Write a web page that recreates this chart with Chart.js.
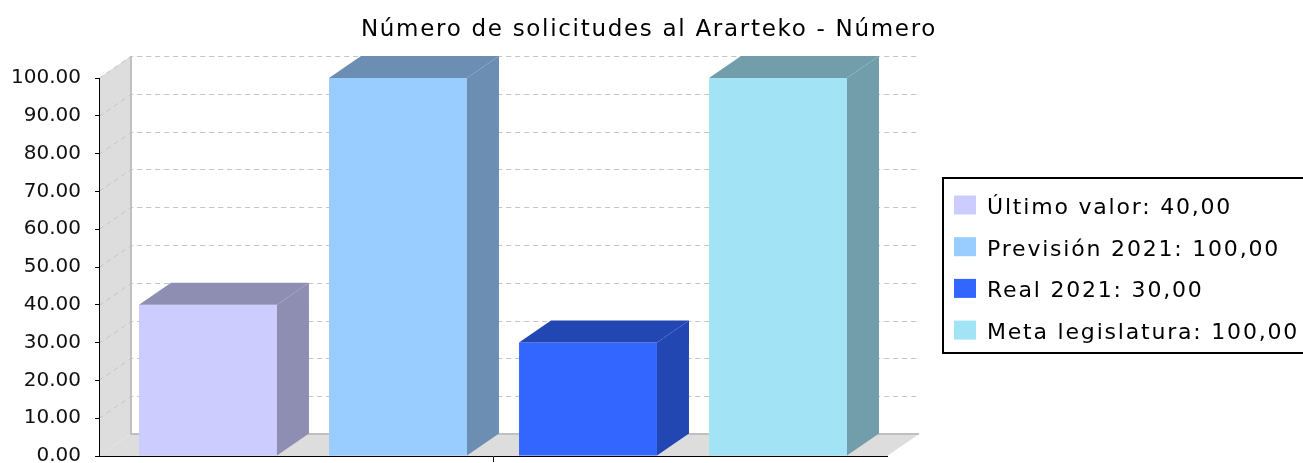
<!DOCTYPE html>
<html>
<head>
<meta charset="utf-8">
<script src="https://cdn.jsdelivr.net/npm/chart.js@4"></script>
<style>
  html, body { margin: 0; padding: 0; background: #fff; }
  #wrap { width: 1303px; height: 463px; }
</style>
</head>
<body>
<div id="wrap"><canvas id="chart" width="1303" height="463"></canvas></div>
<script>
// Datos
const categories = [''];
const seriesNames = ['Último valor', 'Previsión 2021', 'Real 2021', 'Meta legislatura'];
const seriesValues = [40, 100, 30, 100];
const yMin = 0;
const yMax = 100;
const yStep = 10;
const titleText = 'Número de solicitudes al Ararteko - Número';

// Estilo
const seriesColors = ['#CCCCFF', '#99CCFF', '#3366FF', '#A3E3F6'];
const FONT = 'DejaVu Sans';
const DX = 32, DY = 22;

function darker(hex) {
    const n = parseInt(hex.slice(1), 16);
    const r = Math.floor(((n >> 16) & 255) * 0.7);
    const g = Math.floor(((n >> 8) & 255) * 0.7);
    const b = Math.floor((n & 255) * 0.7);
    return `rgb(${r},${g},${b})`;
}

function poly(ctx, pts, fill) {
    ctx.beginPath();
    ctx.moveTo(pts[0][0], pts[0][1]);
    for (let i = 1; i < pts.length; i++) ctx.lineTo(pts[i][0], pts[i][1]);
    ctx.closePath();
    ctx.fillStyle = fill;
    ctx.fill();
}

// Paredes, suelo y rejilla
const walls3d = {
    id: 'walls3d',
    beforeDraw(chart) {
        const { ctx, chartArea: a, scales: { y } } = chart;
        ctx.save();
        poly(ctx, [[a.left, a.top], [a.left + DX, a.top - DY], [a.left + DX, a.bottom - DY], [a.left, a.bottom]], '#DDDDDD');
        poly(ctx, [[a.left, a.bottom], [a.left + DX, a.bottom - DY], [a.right + DX, a.bottom - DY], [a.right, a.bottom]], '#DDDDDD');

        ctx.strokeStyle = '#C4C4C4';
        ctx.lineWidth = 1;
        ctx.setLineDash([5, 4]);
        for (let v = yMin + yStep; v <= yMax; v += yStep) {
            const yy = Math.round(y.getPixelForValue(v)) + 0.5;
            ctx.beginPath();
            ctx.moveTo(a.left, yy);
            ctx.lineTo(a.left + DX, yy - DY);
            ctx.lineTo(a.right + DX, yy - DY);
            ctx.stroke();
        }
        ctx.setLineDash([]);
        ctx.strokeStyle = '#C0C0C0';
        ctx.lineWidth = 2;
        ctx.beginPath();
        ctx.moveTo(a.left + DX, a.top - DY);
        ctx.lineTo(a.left + DX, a.bottom - DY);
        ctx.lineTo(a.right + DX, a.bottom - DY);
        ctx.stroke();
        ctx.restore();
    }
};

// Caras laterales y superiores de las barras
const bars3d = {
    id: 'bars3d',
    afterDatasetsDraw(chart) {
        const ctx = chart.ctx;
        ctx.save();
        chart.data.datasets.forEach((ds, i) => {
            const meta = chart.getDatasetMeta(i);
            meta.data.forEach(bar => {
                const { x, y, base, width } = bar.getProps(['x', 'y', 'base', 'width'], true);
                const l = x - width / 2, r = x + width / 2;
                const c = darker(seriesColors[i]);
                poly(ctx, [[r, y], [r + DX, y - DY], [r + DX, base - DY], [r, base]], c);
                poly(ctx, [[l, y], [l + DX, y - DY], [r + DX, y - DY], [r, y]], c);
            });
        });
        ctx.restore();
    }
};

// Título y leyenda con recuadro
const titleAndLegend = {
    id: 'titleAndLegend',
    afterDraw(chart) {
        const ctx = chart.ctx;
        ctx.save();
        ctx.fillStyle = '#000';
        ctx.font = `23px "${FONT}"`;
        ctx.letterSpacing = '1.7px';
        ctx.textAlign = 'center';
        ctx.textBaseline = 'alphabetic';
        ctx.fillText(titleText, 649, 36);

        const bx = 943, by = 178, bw = 370, bh = 175;
        ctx.fillStyle = '#fff';
        ctx.fillRect(bx, by, bw, bh);
        ctx.strokeStyle = '#000';
        ctx.lineWidth = 2;
        ctx.strokeRect(bx, by, bw, bh);
        ctx.font = `22px "${FONT}"`;
        ctx.letterSpacing = '1.8px';
        ctx.textAlign = 'left';
        seriesNames.forEach((name, i) => {
            const cy = 205 + i * 41.7;
            ctx.fillStyle = seriesColors[i];
            ctx.fillRect(954, cy - 9.5, 22, 19);
            ctx.fillStyle = '#000';
            const val = seriesValues[i].toFixed(2).replace('.', ',');
            ctx.fillText(`${name}: ${val}`, 987, cy + 9);
        });
        ctx.restore();
    }
};

const datasets = seriesNames.map((name, i) => ({
    label: name,
    data: [seriesValues[i]],
    backgroundColor: seriesColors[i],
    borderWidth: 0,
    categoryPercentage: 0.9645,
    barPercentage: 0.726
}));

new Chart(document.getElementById('chart'), {
    type: 'bar',
    data: { labels: categories, datasets: datasets },
    options: {
        responsive: false,
        animation: false,
        layout: { padding: { left: 0, top: 78, right: 416, bottom: 0 } },
        plugins: {
            legend: { display: false },
            tooltip: { enabled: false },
            title: { display: false }
        },
        scales: {
            x: {
                z: 1,
                offset: true,
                ticks: { display: false },
                grid: { display: true, drawOnChartArea: false, drawTicks: true, tickLength: 6, offset: false, color: '#000' },
                border: { display: true, color: '#000', width: 1 },
                afterFit(scale) {
                    scale.height = 7;
                    scale.paddingLeft = 0;
                    scale.paddingRight = 0;
                }
            },
            y: {
                z: 1,
                min: yMin,
                max: yMax,
                ticks: {
                    stepSize: yStep,
                    padding: 14,
                    color: '#111',
                    font: { family: FONT, size: 20 },
                    callback: v => Number(v).toFixed(2)
                },
                grid: { display: true, drawOnChartArea: false, drawTicks: true, tickLength: 4, color: '#000' },
                border: { display: true, color: '#000', width: 1 },
                afterFit(scale) {
                    scale.width = 99;
                    scale.paddingTop = 0;
                    scale.paddingBottom = 0;
                }
            }
        }
    },
    plugins: [walls3d, bars3d, titleAndLegend]
});
</script>
</body>
</html>
